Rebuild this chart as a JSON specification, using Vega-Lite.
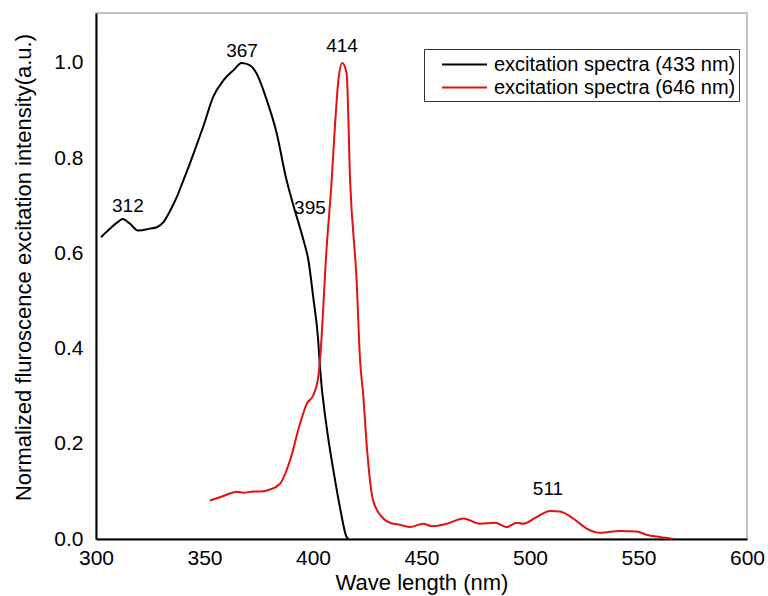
{
  "$schema": "https://vega.github.io/schema/vega-lite/v6.json",
  "width": 651,
  "height": 526,
  "autosize": "none",
  "padding": {"left": 96, "top": 13, "right": 21, "bottom": 57},
  "background": "white",
  "config": {
    "font": "Liberation Sans",
    "view": {"stroke": "#b0b0b0", "strokeWidth": 1.5}
  },
  "datasets": {
    "spectra": [
      {"nm": 302.3, "v": 0.634, "series": "excitation spectra (433 nm)"},
      {"nm": 306, "v": 0.650, "series": "excitation spectra (433 nm)"},
      {"nm": 309.5, "v": 0.664, "series": "excitation spectra (433 nm)"},
      {"nm": 312.3, "v": 0.672, "series": "excitation spectra (433 nm)"},
      {"nm": 315.5, "v": 0.663, "series": "excitation spectra (433 nm)"},
      {"nm": 319.4, "v": 0.648, "series": "excitation spectra (433 nm)"},
      {"nm": 324.9, "v": 0.652, "series": "excitation spectra (433 nm)"},
      {"nm": 328, "v": 0.655, "series": "excitation spectra (433 nm)"},
      {"nm": 331, "v": 0.665, "series": "excitation spectra (433 nm)"},
      {"nm": 334, "v": 0.688, "series": "excitation spectra (433 nm)"},
      {"nm": 337.2, "v": 0.718, "series": "excitation spectra (433 nm)"},
      {"nm": 340.3, "v": 0.754, "series": "excitation spectra (433 nm)"},
      {"nm": 343.3, "v": 0.789, "series": "excitation spectra (433 nm)"},
      {"nm": 346.4, "v": 0.828, "series": "excitation spectra (433 nm)"},
      {"nm": 349.4, "v": 0.866, "series": "excitation spectra (433 nm)"},
      {"nm": 354, "v": 0.929, "series": "excitation spectra (433 nm)"},
      {"nm": 358.8, "v": 0.964, "series": "excitation spectra (433 nm)"},
      {"nm": 363.4, "v": 0.985, "series": "excitation spectra (433 nm)"},
      {"nm": 367.1, "v": 1.0, "series": "excitation spectra (433 nm)"},
      {"nm": 371, "v": 0.995, "series": "excitation spectra (433 nm)"},
      {"nm": 374, "v": 0.978, "series": "excitation spectra (433 nm)"},
      {"nm": 378.7, "v": 0.922, "series": "excitation spectra (433 nm)"},
      {"nm": 383.3, "v": 0.852, "series": "excitation spectra (433 nm)"},
      {"nm": 387.5, "v": 0.760, "series": "excitation spectra (433 nm)"},
      {"nm": 391, "v": 0.700, "series": "excitation spectra (433 nm)"},
      {"nm": 395.6, "v": 0.628, "series": "excitation spectra (433 nm)"},
      {"nm": 397.9, "v": 0.585, "series": "excitation spectra (433 nm)"},
      {"nm": 400.1, "v": 0.508, "series": "excitation spectra (433 nm)"},
      {"nm": 402.4, "v": 0.417, "series": "excitation spectra (433 nm)"},
      {"nm": 403.2, "v": 0.361, "series": "excitation spectra (433 nm)"},
      {"nm": 406.3, "v": 0.235, "series": "excitation spectra (433 nm)"},
      {"nm": 409.4, "v": 0.144, "series": "excitation spectra (433 nm)"},
      {"nm": 412.4, "v": 0.067, "series": "excitation spectra (433 nm)"},
      {"nm": 415.5, "v": 0.004, "series": "excitation spectra (433 nm)"},
      {"nm": 416.3, "v": 0.0, "series": "excitation spectra (433 nm)"},
      {"nm": 352.5, "v": 0.081, "series": "excitation spectra (646 nm)"},
      {"nm": 356, "v": 0.086, "series": "excitation spectra (646 nm)"},
      {"nm": 360.2, "v": 0.093, "series": "excitation spectra (646 nm)"},
      {"nm": 364.8, "v": 0.099, "series": "excitation spectra (646 nm)"},
      {"nm": 368, "v": 0.097, "series": "excitation spectra (646 nm)"},
      {"nm": 372.5, "v": 0.100, "series": "excitation spectra (646 nm)"},
      {"nm": 376, "v": 0.100, "series": "excitation spectra (646 nm)"},
      {"nm": 380.2, "v": 0.104, "series": "excitation spectra (646 nm)"},
      {"nm": 384.8, "v": 0.116, "series": "excitation spectra (646 nm)"},
      {"nm": 389.4, "v": 0.165, "series": "excitation spectra (646 nm)"},
      {"nm": 394, "v": 0.242, "series": "excitation spectra (646 nm)"},
      {"nm": 397.1, "v": 0.284, "series": "excitation spectra (646 nm)"},
      {"nm": 400.1, "v": 0.302, "series": "excitation spectra (646 nm)"},
      {"nm": 402.4, "v": 0.340, "series": "excitation spectra (646 nm)"},
      {"nm": 403.2, "v": 0.375, "series": "excitation spectra (646 nm)"},
      {"nm": 406.3, "v": 0.613, "series": "excitation spectra (646 nm)"},
      {"nm": 408.6, "v": 0.753, "series": "excitation spectra (646 nm)"},
      {"nm": 410.1, "v": 0.866, "series": "excitation spectra (646 nm)"},
      {"nm": 411.7, "v": 0.964, "series": "excitation spectra (646 nm)"},
      {"nm": 413.5, "v": 1.0, "series": "excitation spectra (646 nm)"},
      {"nm": 415.5, "v": 0.978, "series": "excitation spectra (646 nm)"},
      {"nm": 417.1, "v": 0.753, "series": "excitation spectra (646 nm)"},
      {"nm": 420.1, "v": 0.543, "series": "excitation spectra (646 nm)"},
      {"nm": 421.7, "v": 0.375, "series": "excitation spectra (646 nm)"},
      {"nm": 423.2, "v": 0.300, "series": "excitation spectra (646 nm)"},
      {"nm": 424.7, "v": 0.200, "series": "excitation spectra (646 nm)"},
      {"nm": 427.7, "v": 0.081, "series": "excitation spectra (646 nm)"},
      {"nm": 432.4, "v": 0.043, "series": "excitation spectra (646 nm)"},
      {"nm": 436, "v": 0.033, "series": "excitation spectra (646 nm)"},
      {"nm": 440.1, "v": 0.030, "series": "excitation spectra (646 nm)"},
      {"nm": 444.7, "v": 0.025, "series": "excitation spectra (646 nm)"},
      {"nm": 450.8, "v": 0.032, "series": "excitation spectra (646 nm)"},
      {"nm": 454.7, "v": 0.027, "series": "excitation spectra (646 nm)"},
      {"nm": 461.6, "v": 0.032, "series": "excitation spectra (646 nm)"},
      {"nm": 469.3, "v": 0.043, "series": "excitation spectra (646 nm)"},
      {"nm": 477, "v": 0.032, "series": "excitation spectra (646 nm)"},
      {"nm": 483.9, "v": 0.034, "series": "excitation spectra (646 nm)"},
      {"nm": 489.3, "v": 0.025, "series": "excitation spectra (646 nm)"},
      {"nm": 493.9, "v": 0.034, "series": "excitation spectra (646 nm)"},
      {"nm": 496.9, "v": 0.032, "series": "excitation spectra (646 nm)"},
      {"nm": 503, "v": 0.046, "series": "excitation spectra (646 nm)"},
      {"nm": 509.2, "v": 0.059, "series": "excitation spectra (646 nm)"},
      {"nm": 513.8, "v": 0.058, "series": "excitation spectra (646 nm)"},
      {"nm": 519.9, "v": 0.043, "series": "excitation spectra (646 nm)"},
      {"nm": 526.1, "v": 0.022, "series": "excitation spectra (646 nm)"},
      {"nm": 532.3, "v": 0.013, "series": "excitation spectra (646 nm)"},
      {"nm": 541.5, "v": 0.017, "series": "excitation spectra (646 nm)"},
      {"nm": 549.1, "v": 0.016, "series": "excitation spectra (646 nm)"},
      {"nm": 553.7, "v": 0.009, "series": "excitation spectra (646 nm)"},
      {"nm": 559.9, "v": 0.004, "series": "excitation spectra (646 nm)"},
      {"nm": 566, "v": 0.0, "series": "excitation spectra (646 nm)"}
    ],
    "labels": [
      {"nm": 314.7, "v": 0.699, "text": "312"},
      {"nm": 367.3, "v": 1.026, "text": "367"},
      {"nm": 398.6, "v": 0.696, "text": "395"},
      {"nm": 413.4, "v": 1.035, "text": "414"},
      {"nm": 508.3, "v": 0.104, "text": "511"}
    ]
  },
  "layer": [
    {
      "data": {"name": "spectra"},
      "mark": {"type": "line", "strokeWidth": 2, "interpolate": "monotone", "clip": true},
      "encoding": {
        "x": {
          "field": "nm", "type": "quantitative",
          "scale": {"domain": [300, 600], "nice": false, "zero": false},
          "axis": {
            "title": "Wave length (nm)",
            "values": [300, 350, 400, 450, 500, 550, 600],
            "grid": false, "ticks": false,
            "domainColor": "black", "domainWidth": 2,
            "labelFontSize": 21, "labelColor": "black", "labelPadding": 8,
            "labelFlush": false,
            "titleFontSize": 22, "titleFontWeight": "normal", "titleColor": "black", "titlePadding": 4
          }
        },
        "y": {
          "field": "v", "type": "quantitative",
          "scale": {"domain": [0, 1.105], "nice": false},
          "axis": {
            "title": "Normalized fluroscence excitation intensity(a.u.)",
            "values": [0, 0.2, 0.4, 0.6, 0.8, 1.0],
            "format": ".1f",
            "grid": false, "ticks": false,
            "domainColor": "black", "domainWidth": 2,
            "labelFontSize": 21, "labelColor": "black", "labelPadding": 13,
            "labelFlush": false,
            "titleFontSize": 22, "titleFontWeight": "normal", "titleColor": "black", "titlePadding": 18,
            "titleY": 254
          }
        },
        "color": {
          "field": "series", "type": "nominal",
          "scale": {
            "domain": ["excitation spectra (433 nm)", "excitation spectra (646 nm)"],
            "range": ["#000000", "#e31010"]
          },
          "legend": {
            "title": null,
            "orient": "none",
            "legendX": 328,
            "legendY": 36,
            "symbolType": "M-2,0H2",
            "symbolSize": 506,
            "symbolStrokeWidth": 2,
            "symbolOffset": 25,
            "labelFontSize": 20,
            "labelColor": "black",
            "labelLimit": 400,
            "labelOffset": 17,
            "padding": 3,
            "rowPadding": 0,
            "strokeColor": "#333333",
            "fillColor": "white"
          }
        }
      }
    },
    {
      "data": {"name": "labels"},
      "mark": {"type": "text", "fontSize": 19, "color": "black", "baseline": "middle", "align": "center"},
      "encoding": {
        "x": {"field": "nm", "type": "quantitative"},
        "y": {"field": "v", "type": "quantitative"},
        "text": {"field": "text"}
      }
    }
  ]
}
